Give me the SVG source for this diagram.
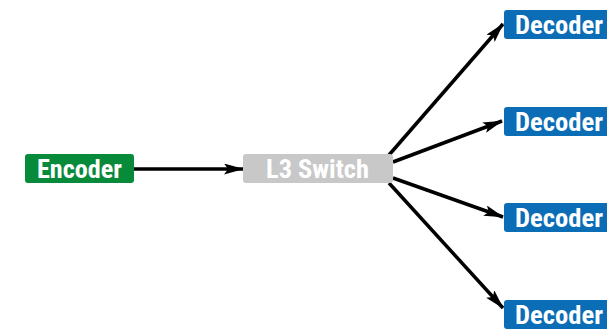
<svg xmlns="http://www.w3.org/2000/svg" width="607" height="330" viewBox="0 0 607 330">
<style>
.lbl{font-family:"Liberation Sans Narrow","Roboto Condensed",Roboto,"Liberation Sans",Arial,sans-serif;font-weight:bold;font-size:25px;fill:#fff}
.edge{stroke:#000;stroke-width:3.5;fill:none;marker-end:url(#ah)}
</style>
<defs>
<marker id="ah" viewBox="0 0 20 11" refX="19" refY="5.5" markerWidth="20" markerHeight="11" markerUnits="userSpaceOnUse" orient="auto">
<path d="M0,0 L20,5.5 L0,11 L4,5.5 z" fill="#000"/>
</marker>
</defs>
<rect width="607" height="330" fill="#fff"/>
<g id="connectors">
<line class="edge" x1="134" y1="169" x2="243" y2="169"/>
<line class="edge" x1="389" y1="155" x2="503" y2="24"/>
<line class="edge" x1="393" y1="162" x2="502" y2="121"/>
<line class="edge" x1="393" y1="178" x2="503" y2="217"/>
<line class="edge" x1="389" y1="183" x2="503" y2="308"/>
</g>
<g id="encoder">
<rect x="25" y="154" width="109" height="29" rx="3" fill="#078a3a"/>
<text class="lbl" x="79.5" y="177.5" text-anchor="middle" textLength="85" lengthAdjust="spacingAndGlyphs">Encoder</text>
</g>
<g id="switch">
<rect x="243" y="154" width="150" height="29" rx="3" fill="#c8c8c8"/>
<text class="lbl" x="317.5" y="177.5" text-anchor="middle" textLength="103" lengthAdjust="spacingAndGlyphs">L3 Switch</text>
</g>
<g id="decoder1">
<rect x="504" y="10" width="110" height="29" rx="3" fill="#0b6db5"/>
<text class="lbl" x="515" y="33.5" textLength="88" lengthAdjust="spacingAndGlyphs">Decoder</text>
</g>
<g id="decoder2">
<rect x="504" y="107" width="110" height="29" rx="3" fill="#0b6db5"/>
<text class="lbl" x="515" y="130.5" textLength="88" lengthAdjust="spacingAndGlyphs">Decoder</text>
</g>
<g id="decoder3">
<rect x="504" y="203" width="110" height="29" rx="3" fill="#0b6db5"/>
<text class="lbl" x="515" y="226.5" textLength="88" lengthAdjust="spacingAndGlyphs">Decoder</text>
</g>
<g id="decoder4">
<rect x="504" y="300" width="110" height="29" rx="3" fill="#0b6db5"/>
<text class="lbl" x="515" y="323.5" textLength="88" lengthAdjust="spacingAndGlyphs">Decoder</text>
</g>
</svg>
